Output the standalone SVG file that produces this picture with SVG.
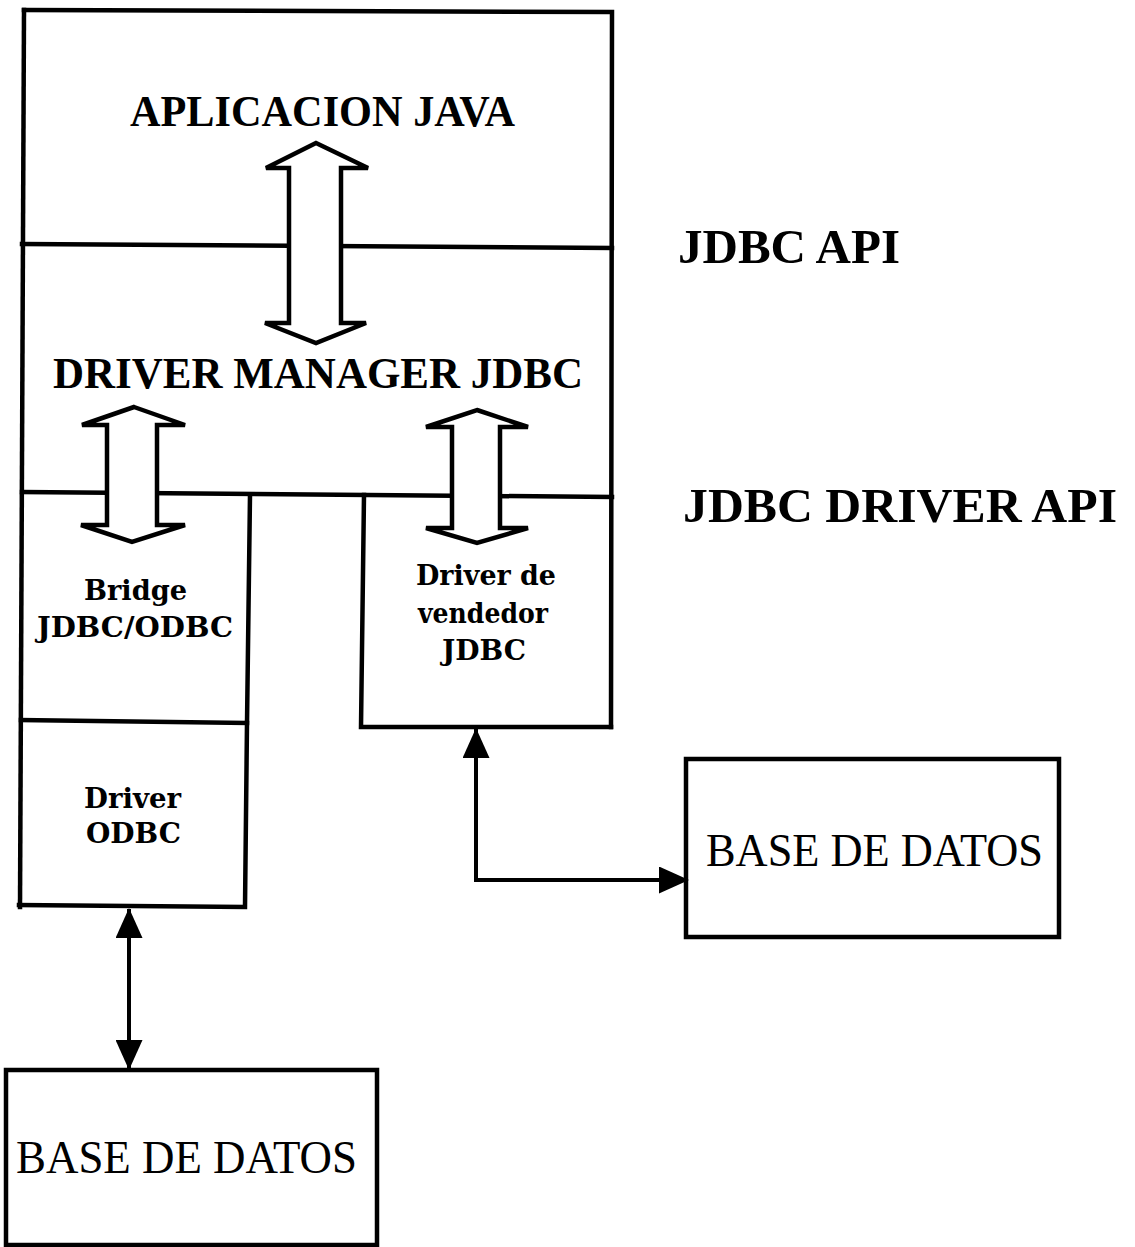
<svg xmlns="http://www.w3.org/2000/svg" width="1135" height="1247" viewBox="0 0 1135 1247">
<style>
.ln{fill:none;stroke:#000;stroke-width:4.5;stroke-linecap:square;stroke-linejoin:miter}
.box{fill:#fff;stroke:#000;stroke-width:4.5}
.fat{fill:#fff;stroke:#000;stroke-width:4.5;stroke-linejoin:miter}
.con{fill:none;stroke:#000;stroke-width:4}
.big{font-family:"Liberation Serif","Times New Roman",serif;font-weight:bold;fill:#000}
.sm{font-family:"DejaVu Serif","Liberation Serif",serif;font-weight:bold;font-size:28px;fill:#000}
.db{font-family:"Liberation Serif","Times New Roman",serif;font-size:46px;fill:#000}
</style>
<defs>
<marker id="tri" viewBox="0 0 30 27" refX="29" refY="13.5" markerWidth="30" markerHeight="27" markerUnits="userSpaceOnUse" orient="auto-start-reverse">
<path d="M0,0 L30,13.5 L0,27 Z" fill="#000"/>
</marker>
</defs>

<g id="stack">
<path class="ln" d="M24,10 L612,12 L611,727"/>
<path class="ln" d="M24,10 L20,907"/>
<path class="ln" d="M22,244 L612,248"/>
<path class="ln" d="M22,492 L612,497"/>
</g>

<g id="aplicacion-java">
<text class="big" x="130" y="126" font-size="44" textLength="385" lengthAdjust="spacingAndGlyphs">APLICACION JAVA</text>
</g>

<g id="driver-manager">
<text class="big" x="53" y="388" font-size="45" textLength="530" lengthAdjust="spacingAndGlyphs">DRIVER MANAGER JDBC</text>
</g>

<g id="bridge">
<path class="ln" d="M250,495 L247,723 L21,720"/>
<text class="sm" x="84" y="600" textLength="103" lengthAdjust="spacingAndGlyphs">Bridge</text>
<text class="sm" x="37" y="637" textLength="196" lengthAdjust="spacingAndGlyphs">JDBC/ODBC</text>
</g>

<g id="driver-odbc">
<path class="ln" d="M247,723 L245,907 L19,905"/>
<text class="sm" x="84" y="808" textLength="97" lengthAdjust="spacingAndGlyphs">Driver</text>
<text class="sm" x="86" y="843" textLength="95" lengthAdjust="spacingAndGlyphs">ODBC</text>
</g>

<g id="driver-vendedor">
<path class="ln" d="M364,495 L361,727 L611,727"/>
<text class="sm" x="416" y="585" textLength="140" lengthAdjust="spacingAndGlyphs">Driver de</text>
<text class="sm" x="418" y="623" textLength="130" lengthAdjust="spacingAndGlyphs">vendedor</text>
<text class="sm" x="442" y="660" textLength="84" lengthAdjust="spacingAndGlyphs">JDBC</text>
</g>

<g id="jdbc-api">
<text class="big" x="678" y="263" font-size="48" textLength="222" lengthAdjust="spacingAndGlyphs">JDBC API</text>
</g>

<g id="jdbc-driver-api">
<text class="big" x="683" y="522" font-size="48" textLength="434" lengthAdjust="spacingAndGlyphs">JDBC DRIVER API</text>
</g>

<g id="base-datos-right">
<rect class="box" x="686" y="759" width="373" height="178"/>
<text class="db" x="706" y="866" textLength="337" lengthAdjust="spacingAndGlyphs">BASE DE DATOS</text>
</g>

<g id="base-datos-bottom">
<rect class="box" x="6" y="1070" width="371" height="175"/>
<text class="db" x="16" y="1173" textLength="341" lengthAdjust="spacingAndGlyphs">BASE DE DATOS</text>
</g>

<g id="connectors">
<path class="fat" d="M316,143 L368,168 L341,168 L341,323 L366,323 L316,343 L265,323 L289,323 L289,168 L266,168 Z"/>
<path class="fat" d="M134,407 L185,425 L157,425 L157,525 L185,525 L132,542 L81,525 L107,525 L107,425 L82,425 Z"/>
<path class="fat" d="M477,410 L528,427 L500,427 L500,528 L528,528 L477,543 L426,528 L452,528 L452,427 L426,427 Z"/>
<path class="con" d="M476,729 L476,880 L688,880" marker-start="url(#tri)" marker-end="url(#tri)"/>
<path class="con" d="M129,909 L129,1069" marker-start="url(#tri)" marker-end="url(#tri)"/>
</g>
</svg>
